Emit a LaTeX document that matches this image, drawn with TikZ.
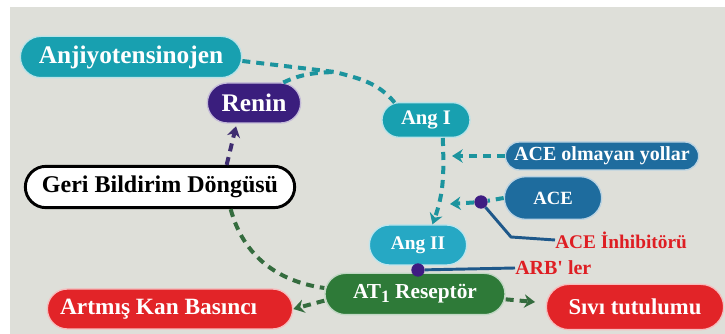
\documentclass[tikz,border=0pt]{standalone}
\usepackage{fontspec}
\setmainfont{Liberation Serif}
\usetikzlibrary{arrows.meta, shapes.misc}

\definecolor{bgc}{RGB}{222,223,217}
\definecolor{tealc}{RGB}{24,160,176}
\definecolor{tealb}{RGB}{38,168,196}
\definecolor{teald}{RGB}{28,148,158}
\definecolor{purplec}{RGB}{58,30,125}
\definecolor{purpled}{RGB}{62,44,112}
\definecolor{bluec}{RGB}{30,108,158}
\definecolor{greenc}{RGB}{46,122,56}
\definecolor{greend}{RGB}{52,108,62}
\definecolor{redc}{RGB}{226,36,40}
\definecolor{redtxt}{RGB}{222,30,35}
\definecolor{inhibc}{RGB}{30,88,138}
\definecolor{dotc}{RGB}{62,28,130}

\begin{document}
\begin{tikzpicture}[
    x=0.75pt, y=0.75pt,
    every node/.style={inner sep=0pt},
    fs/.style={font=\bfseries\fontsize{#1}{#1}\selectfont},
    pill/.style={rounded rectangle, fill=#1, draw=white!70!#1, line width=1pt, text=white},
    loopbox/.style={rounded rectangle, fill=white, draw=black, line width=2.2pt, text=black},
    redlabel/.style={text=redtxt, anchor=west},
    blk/.style={circle, fill=dotc, minimum size=10pt},
    link/.style={line width=3pt, dash pattern=on 6pt off 4.5pt},
    tip/.style={-{Stealth[length=8pt, width=10pt]}},
    inhib/.style={line width=2.2pt, draw=inhibc}
]
\useasboundingbox (0,0) rectangle (725,-334);
\fill[bgc] (10,-7) rectangle (725,-334);

% cycle nodes
\node[pill=tealc, fs=19, minimum width=166pt, minimum height=31pt] (anj) at (131,-57) {Anjiyotensinojen};
\node[pill=purplec, fs=19, minimum width=70pt, minimum height=30pt] (renin) at (254,-103) {Renin};
\node[pill=tealc, fs=15.5, minimum width=66pt, minimum height=26pt] (angI) at (426,-120) {Ang I};
\node[pill=bluec, fs=15, minimum width=145pt, minimum height=21pt] (noace) at (602,-156) {ACE olmayan yollar};
\node[pill=bluec, fs=14, minimum width=73pt, minimum height=32pt] (ace) at (553,-198) {ACE};
\node[pill=tealb, fs=14.5, minimum width=73pt, minimum height=30pt] (angII) at (418,-245) {Ang II};
\node[pill=greenc, fs=16, minimum width=135pt, minimum height=31pt] (at1) at (415,-294)
    {AT\raisebox{-2.5pt}{\fontsize{13}{13}\selectfont 1} Reseptör};
\node[pill=redc, fs=17, minimum width=133pt, minimum height=34pt] (sivi) at (635,-307) {Sıvı tutulumu};
\node[pill=redc, fs=17.5, minimum width=184pt, minimum height=30pt] (artmis) at (170,-309)
    {Artmış Kan Basıncı\hspace*{17pt}};
\node[loopbox, fs=18, minimum width=202pt, minimum height=31pt] (geri) at (160,-187) {Geri Bildirim Döngüsü};

% blockers
\node[blk] (aceblk) at (481,-202) {};
\node[blk] (arbblk) at (418,-270) {};
\node[redlabel, fs=14.5] (aceinh) at (555,-240) {ACE İnhibitörü};
\node[redlabel, fs=15] (arb) at (515,-268) {ARB\textquotesingle{} ler};

\coordinate (join) at (335,-72);
\coordinate (m1) at (452,-156);
\coordinate (m2) at (450,-204);

% connectors
\draw[link, teald] ([yshift=-3pt]anj.east) -- (join) to[out=-15,in=130] (angI.151);
\draw[link, teald] (renin.35) to[out=25,in=182] (join);
\draw[link, purpled, tip, shorten >=2pt] ([xshift=50pt]geri.north) -- ([xshift=-13pt]renin.south);
\draw[link, teald, tip] (angI.-47) to[out=-88,in=70] (angII.55);
\draw[link, teald, tip] (noace.west) -- (m1);
\draw[link, teald] (ace.west) -- (aceblk);
\draw[link, teald, tip] (aceblk) -- (m2);
\draw[link, greend] ([xshift=53pt]geri.south) to[out=-75,in=172] ([yshift=4.5pt]at1.west);
\draw[link, greend, tip] ([yshift=-5pt]at1.west) -- (artmis.east);
\draw[link, greend, tip, shorten >=8pt] ([yshift=-4pt]at1.east) -- ([yshift=3pt]sivi.west);
\draw[inhib] (aceblk) -- ++(30,-35) -- (aceinh.west);
\draw[inhib] (arbblk) -- (arb.west);
\end{tikzpicture}
\end{document}
